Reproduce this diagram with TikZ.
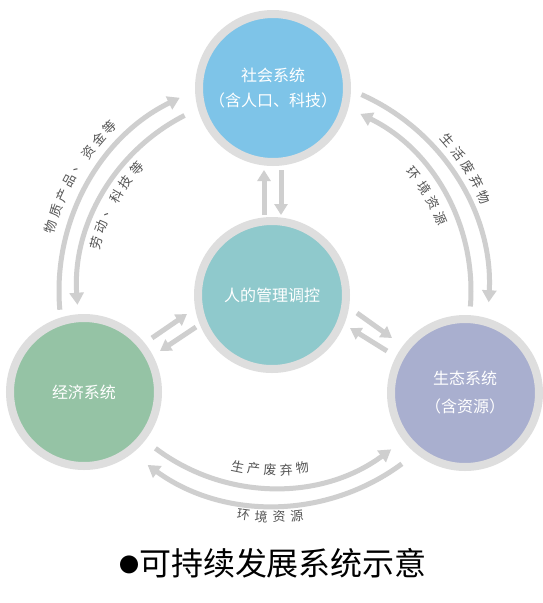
\documentclass[tikz,border=0pt]{standalone}
\usepackage{fontspec}
\setmainfont{Noto Sans CJK SC}
\usetikzlibrary{arrows.meta,calc}
\definecolor{ringgray}{HTML}{DEDEDE}
\definecolor{arrgray}{HTML}{CFCFCF}
\definecolor{socblue}{HTML}{7EC4E8}
\definecolor{midteal}{HTML}{8FC9CC}
\definecolor{ecogreen}{HTML}{95C3A5}
\definecolor{envlav}{HTML}{A9AFCF}
\definecolor{lblgray}{HTML}{555555}
\newcommand\arclabel[6]{%
  \foreach \ch [count=\i] in {#5} {%
    \pgfmathsetmacro\ang{#1+(\i-1)*(#2)}%
    \pgfmathsetmacro\rot{\ang+#4}%
    \node[lbl, rotate=\rot] (#6-\i) at ($(c)+(\ang:#3)$) {\ch};
  }}
\begin{document}
\begin{tikzpicture}[x=1pt,y=1pt,
  sysnode/.style={circle, draw=ringgray, line width=8pt, minimum size=148pt,
    inner sep=0pt, text=white, align=center, font=\fontsize{16}{25}\selectfont},
  arcarr/.style={draw=arrgray, line width=5pt, -{Triangle[width=14pt,length=12pt]}},
  sarr/.style={draw=arrgray, line width=5pt, -{Triangle[width=13pt,length=11pt]}},
  lbl/.style={text=lblgray, inner sep=0pt, font=\fontsize{13}{13}\selectfont}]
\fill[white] (0,0) rectangle (542,-603);
\useasboundingbox (0,0) rectangle (542,-603);
\coordinate (c) at (274,-291);

% system circles
\node[sysnode, fill=socblue] (soc) at (273,-88) {社会系统\\（含人口、科技）};
\node[sysnode, fill=midteal] (mid) at (272,-295) {人的管理调控};
\node[sysnode, fill=ecogreen] (eco) at (84,-392) {经济系统};
\node[sysnode, fill=envlav, font=\fontsize{16}{28}\selectfont] (env) at (465,-393) {生态系统\\（含资源）};

% short arrows between middle and outer circles
\draw[sarr] ($(mid.north)+(-8,2)$) -- ($(soc.south)+(-9,-4)$);
\draw[sarr] ($(soc.south)+(8,-4)$) -- ($(mid.north)+(9,2)$);
\coordinate (le1) at (152,-338); \coordinate (le2) at (187,-314);
\coordinate (le3) at (196,-327); \coordinate (le4) at (160,-351);
\draw[sarr] (le1) -- (le2);
\draw[sarr] (le3) -- (le4);
\coordinate (re1) at (357,-313); \coordinate (re2) at (392,-338);
\coordinate (re3) at (387,-351); \coordinate (re4) at (350,-328);
\draw[sarr] (re1) -- (re2);
\draw[sarr] (re3) -- (re4);

% long arcs
\coordinate (la1) at ($(c)+(185:215)$);
\coordinate (la2) at ($(c)+(117:197)$);
\draw[arcarr] (la1) arc[start angle=185, end angle=116, radius=215pt];
\draw[arcarr] (la2) arc[start angle=117, end angle=184, radius=197pt];
\coordinate (ra1) at ($(c)+(66:215)$);
\coordinate (ra2) at ($(c)+(-4.5:197)$);
\draw[arcarr] (ra1) arc[start angle=66, end angle=-3, radius=215pt];
\draw[arcarr] (ra2) arc[start angle=-4.5, end angle=64, radius=197pt];
\coordinate (ba1) at ($(c)+(-127:197)$);
\coordinate (ba2) at ($(c)+(-53.5:215)$);
\draw[arcarr] (ba1) arc[start angle=-127, end angle=-53.5, radius=197pt];
\draw[arcarr] (ba2) arc[start angle=-53.5, end angle=-126, radius=215pt];

% arc labels
\arclabel{164}{-4.14}{232}{-90}{物,质,产,品,、,资,金,等}{lo}
\arclabel{165}{-5.34}{184}{-90}{劳,动,、,科,技,等}{li}
\arclabel{41}{-4.25}{230}{-90}{生,活,废,弃,物}{ro}
\arclabel{40}{-5.5}{182}{-90}{环,境,资,源}{ri}
\arclabel{-101.7}{5.2}{179}{90}{生,产,废,弃,物}{bi}
\arclabel{-97.8}{4.53}{226}{90}{环,境,资,源}{bo}

% title
\node[text=black, inner sep=0pt, font=\fontsize{32}{32}\selectfont] (title) at (273,-563)
  {\raisebox{3pt}{\fontsize{20}{20}\selectfont ●}可持续发展系统示意};
\end{tikzpicture}
\end{document}
